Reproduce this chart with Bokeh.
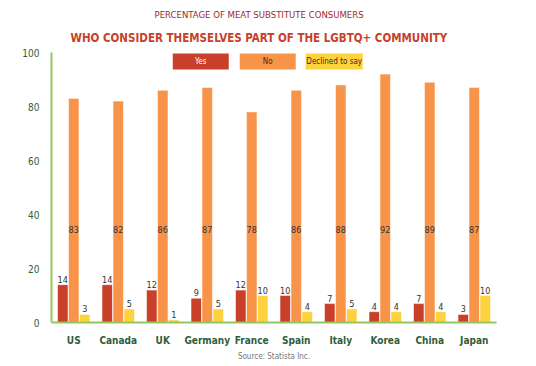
from bokeh.plotting import figure
from bokeh.models import ColumnDataSource, Label, BoxAnnotation, FactorRange, Range1d, FixedTicker, Title
from bokeh.transform import dodge
from bokeh.core.properties import value
from bokeh.embed import file_html
from bokeh.resources import INLINE

countries = ["US", "Canada", "UK", "Germany", "France", "Spain", "Italy", "Korea", "China", "Japan"]
yes = [14, 14, 12, 9, 12, 10, 7, 4, 7, 3]
no = [83, 82, 86, 87, 78, 86, 88, 92, 89, 87]
declined = [3, 5, 1, 5, 10, 4, 5, 4, 4, 10]
series_names = ["Yes", "No", "Declined to say"]
y_ticks = [0, 20, 40, 60, 80, 100]

FONT = "DejaVu Sans Condensed"
C_YES = "#c8402a"
C_NO = "#f7944a"
C_DEC = "#fdd23c"
GREEN_TXT = "#2f5e3b"
AXIS_GREEN = "#92c85a"

src = ColumnDataSource(dict(country=countries, yes=yes, no=no, declined=declined,
                            yes_t=[str(v) for v in yes], no_t=[str(v) for v in no],
                            dec_t=[str(v) for v in declined],
                            no_lab_y=[34.5] * len(no)))

p = figure(x_range=FactorRange(*countries, range_padding=0), y_range=Range1d(0, 100),
           width=536, height=366, output_backend="svg", toolbar_location=None,
           min_border_left=51, min_border_right=40, min_border_top=52, min_border_bottom=44)
p.outline_line_color = None
p.grid.grid_line_color = None
p.background_fill_color = "white"

w = 0.235
off = 0.247
p.vbar(x=dodge("country", -off, range=p.x_range), top="yes", width=w, source=src,
       fill_color=C_YES, line_color="white", line_alpha=0.5)
p.vbar(x=dodge("country", 0, range=p.x_range), top="no", width=w, source=src,
       fill_color=C_NO, line_color="white", line_alpha=0.5)
p.vbar(x=dodge("country", off, range=p.x_range), top="declined", width=w, source=src,
       fill_color=C_DEC, line_color="white", line_alpha=0.5)

tkw = dict(text_font=value(FONT), text_font_size="9px", text_color="#333333", text_align="center")
p.text(x=dodge("country", -off, range=p.x_range), y="yes", text="yes_t", source=src,
       text_baseline="bottom", y_offset=-2, **tkw)
p.text(x=dodge("country", off, range=p.x_range), y="declined", text="dec_t", source=src,
       text_baseline="bottom", y_offset=-2, **tkw)
p.text(x=dodge("country", 0, range=p.x_range), y="no_lab_y", text="no_t", source=src,
       text_baseline="middle", **tkw)

# axes
p.yaxis.ticker = FixedTicker(ticks=y_ticks)
for ax in (p.xaxis, p.yaxis):
    ax.axis_line_color = AXIS_GREEN
    ax.axis_line_width = 2
    ax.major_tick_line_color = None
    ax.minor_tick_line_color = None
    ax.major_label_text_font = FONT
    ax.major_label_text_color = GREEN_TXT
    ax.major_label_text_font_size = "10px"
p.xaxis.major_label_text_font_style = "bold"
p.xaxis.major_label_standoff = 6
p.yaxis.major_label_standoff = 6

# legend boxes
legend_cols = [C_YES, C_NO, C_DEC]
legend_txt = ["white", "#3a2a1a", "#3a2a1a"]
legend_x = [(2.725, 3.983), (4.230, 5.488), (5.713, 6.993)]
for name, col, tc, (l, r) in zip(series_names, legend_cols, legend_txt, legend_x):
    p.add_layout(BoxAnnotation(left=l, right=r, bottom=93.7, top=99.6,
                               fill_color=col, fill_alpha=1, line_color=None, level="overlay"))
    p.add_layout(Label(x=(l + r) / 2, y=96.65, text=name, text_align="center", text_baseline="middle",
                       text_font=FONT, text_font_size="8px", text_color=tc, level="overlay"))

# titles
p.add_layout(Title(text="WHO CONSIDER THEMSELVES PART OF THE LGBTQ+ COMMUNITY", align="left",
                   text_font=FONT, text_font_size="11.5px", text_font_style="bold",
                   text_color=C_YES, offset=19, standoff=16), "above")
p.add_layout(Title(text="PERCENTAGE OF MEAT SUBSTITUTE CONSUMERS", align="left",
                   text_font=FONT, text_font_size="9.5px", text_font_style="normal",
                   text_color="#9b2b2b", offset=103, standoff=1), "above")
p.add_layout(Title(text="Source: Statista Inc.", align="center",
                   text_font=FONT, text_font_size="8px", text_font_style="normal",
                   text_color="#777777", standoff=2), "below")

open("out.html", "w").write(file_html(p, INLINE))
